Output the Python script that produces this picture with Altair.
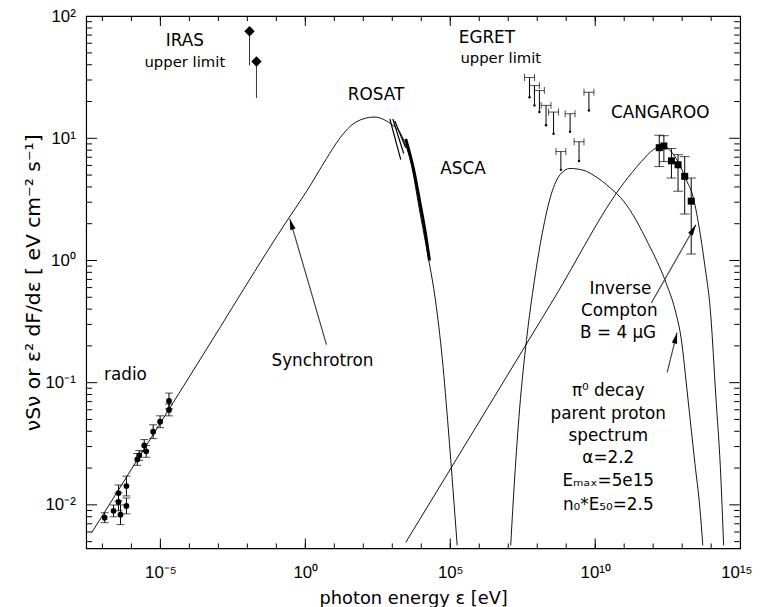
import altair as alt
import pandas as pd
import numpy as np

# ---------------- data ----------------
# model curves: log10(photon energy / eV) and log10(nuSnu / eV cm^-2 s^-1)
sync_logE = [-7.368, -3.712, -0.569, 0.046, 0.730, 1.174, 1.754, 2.369, 2.950, 3.292,
             3.633, 3.975, 4.249, 4.488, 4.727, 4.932, 5.103, 5.239]
sync_logF = [-2.227, -0.842, 0.348, 0.567, 0.834, 0.996, 1.134, 1.174, 1.117, 1.036,
             0.810, 0.364, 0.016, -0.324, -0.810, -1.376, -1.903, -2.332]

ic_logE = [3.463, 6.538, 8.588, 10.979, 11.594, 12.004, 12.346, 12.619, 12.892, 13.131,
           13.371, 13.576, 13.781, 13.985, 14.156, 14.327, 14.430]
ic_logF = [-2.308, -1.109, -0.308, 0.632, 0.810, 0.907, 0.939, 0.891, 0.794, 0.664,
           0.526, 0.283, -0.040, -0.445, -1.093, -1.741, -2.332]

pi_logE = [7.084, 7.221, 7.392, 7.631, 7.904, 8.177, 8.485, 8.792, 9.134, 9.612, 9.954,
           10.535, 10.979, 11.833, 12.448, 12.756, 12.961, 13.200, 13.439, 13.610, 13.712]
pi_logF = [-2.332, -1.781, -1.215, -0.648, -0.162, 0.227, 0.543, 0.704, 0.753, 0.737, 0.696,
           0.591, 0.486, 0.138, -0.186, -0.405, -0.632, -1.134, -1.660, -2.024, -2.332]

# ROSAT (three thin segments) and ASCA (thick band)
rosat_seg = [0, 0, 1, 1, 2, 2]
rosat_logE = [2.916, 3.292, 3.019, 3.394, 3.087, 3.463]
rosat_logF = [1.158, 0.826, 1.158, 0.875, 1.142, 0.923]
asca_logE = [3.463, 3.736, 3.975, 4.146, 4.283]
asca_logF = [0.996, 0.745, 0.445, 0.219, 0.000]

# radio data points
radio_logE = [-6.923, -6.616, -6.445, -6.445, -6.377, -6.172, -6.172, -5.796, -5.728,
              -5.557, -5.489, -5.249, -5.010, -4.703, -4.703]
radio_F = [0.00785, 0.00893, 0.01057, 0.0125, 0.0083, 0.0098, 0.01426, 0.02355, 0.0254,
           0.0306, 0.0274, 0.0397, 0.0479, 0.0598, 0.0708]
radio_lo = [0.00715, 0.00799, 0.00894, 0.01077, 0.00689, 0.00844, 0.01183, 0.02106, 0.02313,
            0.02737, 0.02451, 0.03485, 0.04284, 0.05349, 0.06098]
radio_hi = [0.00862, 0.00998, 0.0125, 0.01451, 0.0100, 0.01138, 0.01718, 0.02633, 0.02789,
            0.03421, 0.03063, 0.04522, 0.05355, 0.06686, 0.0822]

# IRAS upper limits
iras_logE = [-1.925, -1.686]
iras_F = [75.2, 42.5]
iras_low = [39.4, 21.4]

# EGRET upper limits
egret_logE = [7.733, 7.904, 8.075, 8.304, 8.563, 9.134, 9.783, 9.442, 8.816]
egret_top = [31.5, 27.0, 24.6, 18.6, 16.4, 15.9, 23.8, 9.37, 7.79]
egret_bottom = [21.7, 18.6, 16.4, 12.8, 10.9, 11.3, 16.9, 6.53, 5.52]

# CANGAROO data
cang_logE = [12.209, 12.369, 12.629, 12.858, 13.087, 13.312]
cang_F = [8.38, 8.65, 6.54, 6.07, 4.88, 3.06]
cang_hi = [10.6, 10.5, 8.26, 7.35, 7.08, 4.73]
cang_lo = [5.87, 6.45, 4.73, 3.69, 2.40, 1.13]

# annotation arrows: tail -> tip (log10 E, log10 F)
sync_arrow_logE = [0.730, -0.535]
sync_arrow_logF = [-0.688, 0.340]
ic_arrow_logE = [11.936, 13.473]
ic_arrow_logF = [-0.348, 0.292]
pi_arrow_logE = [12.482, 12.824]
pi_arrow_logF = [-0.915, -0.591]

# annotation texts
big_text = ["IRAS", "ROSAT", "EGRET", "ASCA", "CANGAROO", "radio", "Synchrotron",
            "Inverse", "Compton", "B = 4 μG", "π⁰ decay", "parent proton", "spectrum",
            "α=2.2", "Eₘₐₓ=5e15", "n₀*E₅₀=2.5"]
big_logE = [-4.156, 2.438, 6.264, 5.440, 12.243, -6.206, 0.593,
            10.87, 10.83, 10.79, 10.45, 10.45, 10.45, 10.45, 10.45, 10.45]
big_logF = [1.798, 1.356, 1.822, 0.745, 1.206, -0.939, -0.826,
            -0.235, -0.413, -0.591, -1.069, -1.255, -1.441, -1.619, -1.806, -2.000]
small_text = ["upper limit", "upper limit"]
small_logE = [-4.156, 6.742]
small_logF = [1.628, 1.660]

# axis ticks (exponents)
x_label_exp = [-5, 0, 5, 10, 15]
y_label_exp = [-2, -1, 0, 1, 2]
x_major_exp = [-5, 0, 5, 10]
x_minor_exp = list(range(-7, 15))
y_major_exp = [-2, -1, 0, 1]
y_minor_mult = [2, 3, 4, 5, 6, 7, 8, 9]
y_minor_exp = [-3, -2, -1, 0, 1]

XDOM = [2.75e-8, 1e15]
YDOM = [4.4e-3, 100]
W, H = 661, 538

# ---------------- frames ----------------
def curve(le, lf):
    return pd.DataFrame({"E": np.power(10.0, le), "F": np.power(10.0, lf),
                         "i": range(len(le))})

sync_df = curve(sync_logE, sync_logF)
ic_df = curve(ic_logE, ic_logF)
pi_df = curve(pi_logE, pi_logF)
rosat_df = curve(rosat_logE, rosat_logF).assign(seg=rosat_seg)
asca_df = curve(asca_logE, asca_logF)
radio_df = pd.DataFrame({"E": np.power(10.0, radio_logE), "F": radio_F,
                         "lo": radio_lo, "hi": radio_hi})
iras_df = pd.DataFrame({"E": np.power(10.0, iras_logE), "F": iras_F, "lo": iras_low})
egret_df = pd.DataFrame({"E": np.power(10.0, egret_logE), "top": egret_top,
                         "bottom": egret_bottom})
cang_df = pd.DataFrame({"E": np.power(10.0, cang_logE), "F": cang_F,
                        "lo": cang_lo, "hi": cang_hi})
arrows = {
    "sync": (curve(sync_arrow_logE, sync_arrow_logF), 343.6),
    "ic": (curve(ic_arrow_logE, ic_arrow_logF), 29.7),
    "pi": (curve(pi_arrow_logE, pi_arrow_logF), 14.0),
}
big_df = pd.DataFrame({"E": np.power(10.0, big_logE), "F": np.power(10.0, big_logF),
                       "t": big_text})
small_df = pd.DataFrame({"E": np.power(10.0, small_logE), "F": np.power(10.0, small_logF),
                         "t": small_text})

# frame tick segments, built as two-point line pieces (pixel lengths through the log scales)
x_dec_per_px = np.log10(XDOM[1] / XDOM[0]) / W
y_dec_per_px = np.log10(YDOM[1] / YDOM[0]) / H
seg_rows = []
k = 0
for exps, ln in ((x_minor_exp, 5), (x_major_exp, 10)):
    f = 10.0 ** (ln * y_dec_per_px)
    eps = 10.0 ** (0.5 * y_dec_per_px)
    for e in exps:
        v = 10.0 ** e
        seg_rows += [{"E": v, "F": YDOM[0] * eps, "seg": k, "i": 0},
                     {"E": v, "F": YDOM[0] * f, "seg": k, "i": 1}]
        k += 1
        seg_rows += [{"E": v, "F": YDOM[1] / eps, "seg": k, "i": 0},
                     {"E": v, "F": YDOM[1] / f, "seg": k, "i": 1}]
        k += 1
yt_vals_minor = [m * 10.0 ** e for e in y_minor_exp for m in y_minor_mult
                 if YDOM[0] < m * 10.0 ** e < YDOM[1]]
yt_vals_major = [10.0 ** e for e in y_major_exp]
for vals, ln in ((yt_vals_minor, 6), (yt_vals_major, 11)):
    f = 10.0 ** (ln * x_dec_per_px)
    eps = 10.0 ** (0.5 * x_dec_per_px)
    for v in vals:
        seg_rows += [{"E": XDOM[0] * eps, "F": v, "seg": k, "i": 0},
                     {"E": XDOM[0] * f, "F": v, "seg": k, "i": 1}]
        k += 1
        seg_rows += [{"E": XDOM[1] / eps, "F": v, "seg": k, "i": 0},
                     {"E": XDOM[1] / f, "F": v, "seg": k, "i": 1}]
        k += 1
tick_df = pd.DataFrame(seg_rows)

xs = alt.Scale(type="log", domain=XDOM, nice=False)
ys = alt.Scale(type="log", domain=YDOM, nice=False)

LABEL_FONT = "Liberation Sans"
TEXT_FONT = "DejaVu Sans"


def X(field, axis=None):
    return alt.X(field, type="quantitative", scale=xs, axis=axis)


def Y(field, axis=None):
    return alt.Y(field, type="quantitative", scale=ys, axis=axis)


x_main = alt.Axis(orient="bottom", values=[10.0 ** e for e in x_label_exp], ticks=False,
                  tickSize=0, domain=False, grid=False,
                  labelExpr="['10⁻⁵','10⁰','10⁵','10¹⁰','10¹⁵'][round(log(datum.value)/LN10/5)+1]",
                  labelFont=LABEL_FONT, labelFontSize=17, labelColor="black",
                  labelPadding=16, labelFlush=True, labelFlushOffset=12,
                  labelOverlap=False, labelBound=False,
                  title="photon energy ε [eV]", titleFont=TEXT_FONT, titleFontSize=18,
                  titleFontWeight="normal", titleColor="black",
                  titleY=51, titleBaseline="middle")
y_main = alt.Axis(orient="left", values=[10.0 ** e for e in y_label_exp], ticks=False,
                  tickSize=0, domain=False, grid=False,
                  labelExpr="['10⁻²','10⁻¹','10⁰','10¹','10²'][round(log(datum.value)/LN10)+2]",
                  labelFont=LABEL_FONT, labelFontSize=17, labelColor="black",
                  labelPadding=11, labelFlush=False, labelOverlap=False, labelBound=False,
                  title="νSν or ε² dF/dε [ eV cm⁻² s⁻¹]", titleFont=TEXT_FONT,
                  titleFontSize=20.5, titleFontWeight="normal", titleColor="black",
                  titleX=-53, titleY=H / 2, titleBaseline="middle", titleAngle=270)

line_style = dict(color="#111111", strokeWidth=1, clip=True, interpolate="monotone")

sync = alt.Chart(sync_df).mark_line(**line_style).encode(
    x=X("E", x_main), y=Y("F", y_main), order="i:Q")
ic = alt.Chart(ic_df).mark_line(**line_style).encode(x=X("E"), y=Y("F"), order="i:Q")
pi0 = alt.Chart(pi_df).mark_line(**line_style).encode(x=X("E"), y=Y("F"), order="i:Q")
rosat = alt.Chart(rosat_df).mark_line(color="black", strokeWidth=1.2, clip=True).encode(
    x=X("E"), y=Y("F"), detail="seg:N", order="i:Q")
asca = alt.Chart(asca_df).mark_line(color="black", strokeWidth=3, clip=True,
                                      interpolate="monotone").encode(
    x=X("E"), y=Y("F"), order="i:Q")

frame_ticks = alt.Chart(tick_df).mark_line(color="black", strokeWidth=1).encode(
    x=X("E"), y=Y("F"), detail="seg:N", order="i:Q")

# radio points with error bars
radio_bar = alt.Chart(radio_df).mark_rule(color="black", strokeWidth=1).encode(
    x=X("E"), y=Y("lo"), y2="hi")
radio_cap_lo = alt.Chart(radio_df).mark_tick(orient="horizontal", size=8, thickness=1,
                                             color="black").encode(x=X("E"), y=Y("lo"))
radio_cap_hi = alt.Chart(radio_df).mark_tick(orient="horizontal", size=8, thickness=1,
                                             color="black").encode(x=X("E"), y=Y("hi"))
radio_pts = alt.Chart(radio_df).mark_circle(size=34, color="black", opacity=1).encode(
    x=X("E"), y=Y("F"))

# IRAS upper limits
iras_bar = alt.Chart(iras_df).mark_rule(color="#333333", strokeWidth=1).encode(
    x=X("E"), y=Y("F"), y2="lo")
iras_pts = alt.Chart(iras_df).mark_point(shape="diamond", size=110, filled=True,
                                         color="black", opacity=1).encode(
    x=X("E"), y=Y("F"))

# EGRET upper limits
egret_bar = alt.Chart(egret_df).mark_rule(color="black", strokeWidth=1).encode(
    x=X("E"), y=Y("top"), y2="bottom")
egret_cap = alt.Chart(egret_df).mark_tick(orient="horizontal", size=10, thickness=1,
                                          color="black").encode(x=X("E"), y=Y("top"))
egret_end_l = alt.Chart(egret_df).mark_tick(orient="vertical", size=7, thickness=1,
                                            color="black", xOffset=-5).encode(
    x=X("E"), y=Y("top"))
egret_end_r = alt.Chart(egret_df).mark_tick(orient="vertical", size=7, thickness=1,
                                            color="black", xOffset=5).encode(
    x=X("E"), y=Y("top"))
egret_dot = alt.Chart(egret_df).mark_circle(size=6, color="black", opacity=1).encode(
    x=X("E"), y=Y("bottom"))

# CANGAROO
cang_bar = alt.Chart(cang_df).mark_rule(color="black", strokeWidth=1).encode(
    x=X("E"), y=Y("lo"), y2="hi")
cang_cap_lo = alt.Chart(cang_df).mark_tick(orient="horizontal", size=10, thickness=1,
                                           color="black").encode(x=X("E"), y=Y("lo"))
cang_cap_hi = alt.Chart(cang_df).mark_tick(orient="horizontal", size=10, thickness=1,
                                           color="black").encode(x=X("E"), y=Y("hi"))
cang_pts = alt.Chart(cang_df).mark_square(size=50, color="black", opacity=1).encode(
    x=X("E"), y=Y("F"))

# arrows
HEAD = "M0,0L0.55,2.2L-0.55,2.2Z"
arrow_layers = []
for key, (df, ang) in arrows.items():
    arrow_layers.append(alt.Chart(df).mark_line(color="#444444", strokeWidth=1.2).encode(
        x=X("E"), y=Y("F"), order="i:Q"))
    arrow_layers.append(alt.Chart(df[df["i"] == 1]).mark_point(
        shape=HEAD, size=100, filled=True, color="black", opacity=1, angle=ang,
        strokeWidth=0).encode(x=X("E"), y=Y("F")))

big_txt = alt.Chart(big_df).mark_text(font=TEXT_FONT, fontSize=17, color="black",
                                      align="center", baseline="middle").encode(
    x=X("E"), y=Y("F"), text="t:N")
small_txt = alt.Chart(small_df).mark_text(font=TEXT_FONT, fontSize=15, color="black",
                                          align="center", baseline="middle").encode(
    x=X("E"), y=Y("F"), text="t:N")

chart = alt.layer(
    sync, ic, pi0, rosat, asca, frame_ticks,
    radio_bar, radio_cap_lo, radio_cap_hi, radio_pts,
    iras_bar, iras_pts,
    egret_bar, egret_cap, egret_end_l, egret_end_r, egret_dot,
    cang_bar, cang_cap_lo, cang_cap_hi, cang_pts,
    *arrow_layers, big_txt, small_txt,
).resolve_axis(x="independent", y="independent").properties(
    width=W, height=H,
    padding={"left": 79, "top": 5, "right": 14, "bottom": 56},
    autosize=alt.AutoSizeParams(type="none"),
).configure_view(stroke="black", strokeWidth=1.2)

chart.save("out.html", embed_options={"renderer": "svg", "actions": False})
